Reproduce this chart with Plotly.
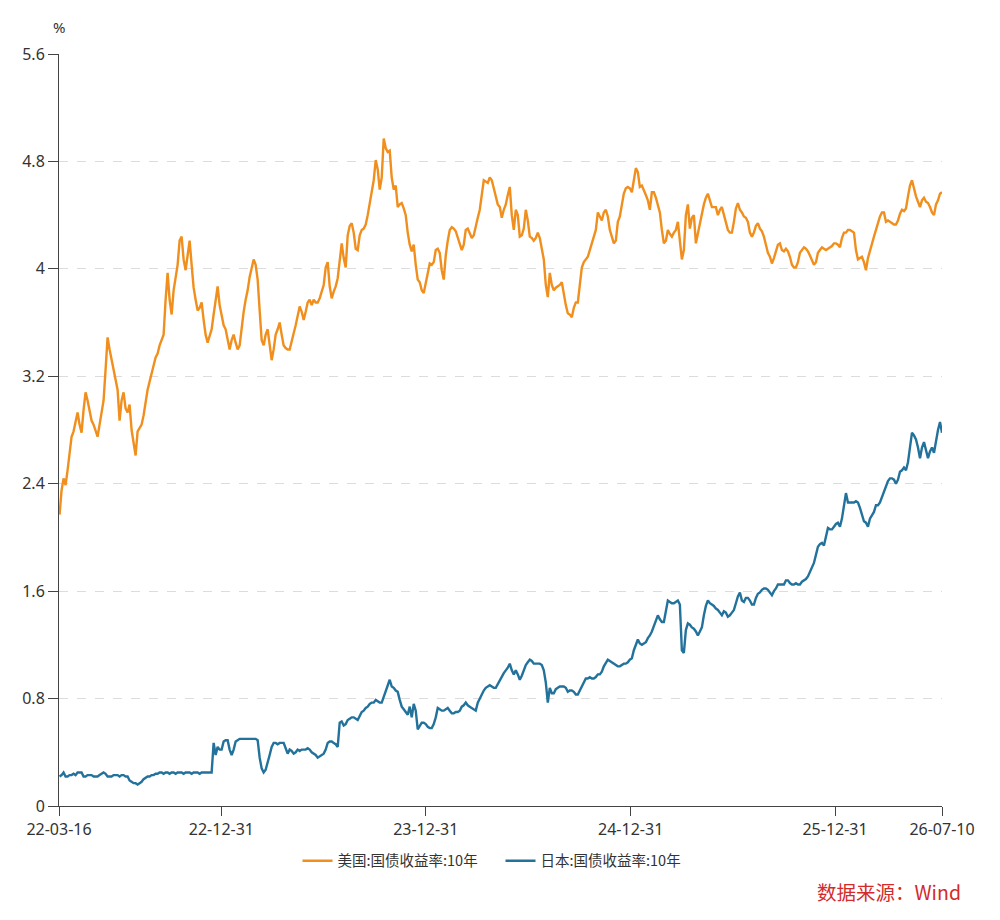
import pandas as pd
import plotly.graph_objects as go

START_DATE = "2022-03-17"
END_DATE = "2026-07-10"

us_10y = [
    2.17, 2.35, 2.44, 2.39, 2.50, 2.65, 2.75, 2.79, 2.87, 2.93,
    2.84, 2.78, 2.95, 3.08, 3.02, 2.93, 2.87, 2.84, 2.79, 2.75,
    2.84, 2.95, 3.02, 3.25, 3.49, 3.40, 3.32, 3.25, 3.17, 3.10,
    2.87, 3.02, 3.08, 2.96, 2.93, 2.99, 2.80, 2.69, 2.61, 2.79,
    2.82, 2.84, 2.91, 3.02, 3.10, 3.16, 3.23, 3.28, 3.34, 3.37,
    3.43, 3.47, 3.51, 3.77, 3.97, 3.77, 3.66, 3.84, 3.93, 4.03,
    4.21, 4.24, 4.07, 3.99, 4.10, 4.21, 4.03, 3.86, 3.77, 3.69,
    3.71, 3.75, 3.62, 3.51, 3.45, 3.51, 3.55, 3.66, 3.77, 3.87,
    3.73, 3.66, 3.58, 3.55, 3.47, 3.40, 3.47, 3.51, 3.45, 3.40,
    3.43, 3.58, 3.68, 3.77, 3.84, 3.94, 4.01, 4.07, 4.03, 3.92,
    3.69, 3.47, 3.43, 3.51, 3.55, 3.43, 3.32, 3.40, 3.51, 3.55,
    3.60, 3.51, 3.43, 3.41, 3.40, 3.40, 3.47, 3.52, 3.58, 3.66,
    3.72, 3.68, 3.62, 3.68, 3.75, 3.77, 3.73, 3.77, 3.75, 3.75,
    3.78, 3.83, 3.88, 4.01, 4.05, 3.87, 3.78, 3.83, 3.87, 3.93,
    4.05, 4.19, 4.08, 4.01, 4.25, 4.32, 4.34, 4.27, 4.15, 4.14,
    4.25, 4.29, 4.30, 4.33, 4.40, 4.49, 4.57, 4.66, 4.81, 4.74,
    4.59, 4.68, 4.97, 4.90, 4.87, 4.88, 4.68, 4.59, 4.62, 4.46,
    4.48, 4.49, 4.45, 4.40, 4.27, 4.18, 4.13, 4.18, 4.03, 3.92,
    3.90, 3.84, 3.82, 3.90, 3.98, 4.04, 4.03, 4.05, 4.14, 4.15,
    4.12, 3.99, 3.92, 4.10, 4.21, 4.29, 4.31, 4.30, 4.28, 4.23,
    4.19, 4.14, 4.18, 4.29, 4.30, 4.27, 4.23, 4.25, 4.33, 4.38,
    4.44, 4.57, 4.66, 4.65, 4.64, 4.68, 4.66, 4.60, 4.53, 4.48,
    4.46, 4.38, 4.44, 4.48, 4.55, 4.61, 4.40, 4.29, 4.44, 4.40,
    4.24, 4.25, 4.30, 4.44, 4.36, 4.24, 4.23, 4.21, 4.23, 4.27,
    4.23, 4.16, 4.07, 3.88, 3.79, 3.97, 3.88, 3.84, 3.86, 3.87,
    3.88, 3.90, 3.81, 3.73, 3.67, 3.66, 3.64, 3.71, 3.75, 3.75,
    3.88, 4.01, 4.05, 4.07, 4.09, 4.14, 4.19, 4.25, 4.29, 4.42,
    4.39, 4.36, 4.42, 4.44, 4.39, 4.29, 4.24, 4.19, 4.21, 4.35,
    4.39, 4.48, 4.56, 4.60, 4.61, 4.60, 4.57, 4.66, 4.75, 4.72,
    4.61, 4.62, 4.59, 4.55, 4.51, 4.44, 4.57, 4.57, 4.53, 4.48,
    4.42, 4.29, 4.19, 4.21, 4.29, 4.26, 4.24, 4.27, 4.29, 4.35,
    4.21, 4.07, 4.14, 4.40, 4.48, 4.30, 4.38, 4.40, 4.19, 4.27,
    4.34, 4.40, 4.48, 4.53, 4.56, 4.51, 4.46, 4.46, 4.46, 4.40,
    4.44, 4.46, 4.40, 4.35, 4.29, 4.27, 4.27, 4.35, 4.45, 4.49,
    4.44, 4.42, 4.39, 4.38, 4.35, 4.27, 4.24, 4.27, 4.32, 4.34,
    4.30, 4.28, 4.24, 4.18, 4.12, 4.09, 4.04, 4.08, 4.14, 4.18,
    4.19, 4.14, 4.13, 4.15, 4.13, 4.09, 4.03, 4.01, 4.01, 4.05,
    4.12, 4.14, 4.16, 4.15, 4.13, 4.10, 4.07, 4.03, 4.05, 4.12,
    4.14, 4.16, 4.15, 4.14, 4.15, 4.16, 4.17, 4.19, 4.19, 4.18,
    4.16, 4.23, 4.27, 4.27, 4.29, 4.29, 4.28, 4.27, 4.14, 4.07,
    4.08, 4.09, 4.05, 3.99, 4.08, 4.14, 4.19, 4.24, 4.29, 4.35,
    4.39, 4.42, 4.42, 4.35, 4.36, 4.35, 4.34, 4.33, 4.33, 4.36,
    4.41, 4.44, 4.43, 4.45, 4.54, 4.62, 4.66, 4.59, 4.54, 4.50,
    4.46, 4.51, 4.53, 4.50, 4.49, 4.46, 4.42, 4.40, 4.48, 4.51,
    4.56, 4.57,
]

jp_10y = [
    0.22, 0.23, 0.25, 0.22, 0.22, 0.23, 0.23, 0.24, 0.23, 0.25,
    0.25, 0.25, 0.22, 0.22, 0.23, 0.23, 0.23, 0.22, 0.22, 0.22,
    0.23, 0.24, 0.25, 0.24, 0.22, 0.22, 0.22, 0.23, 0.23, 0.23,
    0.22, 0.23, 0.23, 0.22, 0.22, 0.19, 0.18, 0.17, 0.17, 0.16,
    0.17, 0.18, 0.20, 0.21, 0.22, 0.22, 0.23, 0.23, 0.24, 0.24,
    0.25, 0.25, 0.24, 0.25, 0.25, 0.24, 0.25, 0.25, 0.24, 0.25,
    0.25, 0.25, 0.24, 0.25, 0.25, 0.25, 0.24, 0.25, 0.25, 0.25,
    0.24, 0.25, 0.25, 0.25, 0.25, 0.25, 0.25, 0.47, 0.38, 0.44,
    0.42, 0.42, 0.48, 0.49, 0.49, 0.42, 0.38, 0.42, 0.48, 0.49,
    0.50, 0.50, 0.50, 0.50, 0.50, 0.50, 0.50, 0.50, 0.50, 0.49,
    0.36, 0.28, 0.25, 0.27, 0.32, 0.38, 0.44, 0.47, 0.47, 0.46,
    0.47, 0.47, 0.47, 0.43, 0.39, 0.42, 0.41, 0.39, 0.40, 0.42,
    0.41, 0.42, 0.42, 0.42, 0.43, 0.42, 0.40, 0.39, 0.38, 0.36,
    0.37, 0.38, 0.39, 0.42, 0.47, 0.48, 0.48, 0.47, 0.46, 0.44,
    0.62, 0.63, 0.60, 0.61, 0.64, 0.65, 0.66, 0.66, 0.65, 0.64,
    0.67, 0.70, 0.71, 0.73, 0.74, 0.76, 0.77, 0.77, 0.79, 0.78,
    0.77, 0.77, 0.81, 0.86, 0.90, 0.94, 0.89, 0.88, 0.86, 0.85,
    0.79, 0.74, 0.72, 0.70, 0.68, 0.74, 0.66, 0.76, 0.71, 0.57,
    0.60, 0.62, 0.62, 0.61, 0.59, 0.58, 0.58, 0.61, 0.66, 0.73,
    0.72, 0.71, 0.71, 0.72, 0.73, 0.71, 0.69, 0.69, 0.70, 0.70,
    0.71, 0.74, 0.75, 0.77, 0.75, 0.74, 0.73, 0.72, 0.71, 0.77,
    0.80, 0.84, 0.86, 0.88, 0.89, 0.90, 0.89, 0.88, 0.88, 0.91,
    0.94, 0.96, 0.99, 1.01, 1.03, 1.06, 1.01, 0.98, 1.01, 0.98,
    0.94, 0.97, 1.01, 1.05, 1.07, 1.09, 1.08, 1.06, 1.06, 1.06,
    1.06, 1.05, 1.01, 0.92, 0.77, 0.88, 0.84, 0.84, 0.87, 0.88,
    0.89, 0.89, 0.89, 0.88, 0.85, 0.86, 0.86, 0.85, 0.83, 0.83,
    0.86, 0.89, 0.92, 0.95, 0.95, 0.96, 0.95, 0.95, 0.96, 0.98,
    0.98, 1.00, 1.04, 1.07, 1.09, 1.08, 1.07, 1.06, 1.05, 1.04,
    1.04, 1.05, 1.06, 1.06, 1.07, 1.09, 1.10, 1.16, 1.20, 1.24,
    1.21, 1.20, 1.21, 1.22, 1.25, 1.27, 1.30, 1.34, 1.39, 1.42,
    1.39, 1.37, 1.37, 1.44, 1.53, 1.52, 1.51, 1.51, 1.52, 1.53,
    1.50, 1.16, 1.14, 1.31, 1.36, 1.35, 1.33, 1.32, 1.30, 1.27,
    1.30, 1.33, 1.42, 1.49, 1.53, 1.51, 1.50, 1.49, 1.47, 1.46,
    1.44, 1.42, 1.45, 1.44, 1.41, 1.42, 1.44, 1.46, 1.51, 1.56,
    1.59, 1.53, 1.52, 1.55, 1.55, 1.53, 1.50, 1.50, 1.55, 1.58,
    1.59, 1.61, 1.62, 1.62, 1.61, 1.59, 1.57, 1.60, 1.62, 1.65,
    1.65, 1.65, 1.65, 1.68, 1.68, 1.66, 1.65, 1.65, 1.66, 1.65,
    1.65, 1.67, 1.68, 1.69, 1.71, 1.74, 1.78, 1.81, 1.87, 1.93,
    1.95, 1.96, 1.94, 2.00, 2.07, 2.06, 2.06, 2.08, 2.10, 2.11,
    2.08, 2.14, 2.22, 2.33, 2.26, 2.26, 2.26, 2.26, 2.27, 2.26,
    2.22, 2.16, 2.12, 2.11, 2.08, 2.14, 2.17, 2.19, 2.24, 2.24,
    2.26, 2.30, 2.33, 2.38, 2.42, 2.44, 2.44, 2.43, 2.40, 2.43,
    2.49, 2.50, 2.52, 2.50, 2.56, 2.67, 2.78, 2.76, 2.73, 2.67,
    2.59, 2.67, 2.71, 2.65, 2.59, 2.64, 2.67, 2.63, 2.73, 2.80,
    2.86, 2.78,
]

series_names = ["美国:国债收益率:10年", "日本:国债收益率:10年"]
series_colors = ["#F08F1D", "#23729B"]

x_tick_dates = ["2022-03-16", "2022-12-31", "2023-12-31", "2024-12-31", "2025-12-31", "2026-07-10"]
x_tick_labels = ["22-03-16", "22-12-31", "23-12-31", "24-12-31", "25-12-31", "26-07-10"]
y_tick_vals = [0, 0.8, 1.6, 2.4, 3.2, 4.0, 4.8, 5.6]
y_tick_labels = ["0", "0.8", "1.6", "2.4", "3.2", "4", "4.8", "5.6"]

FONT = "Noto Sans, Noto Sans CJK SC, sans-serif"

fig = go.Figure()
for name, vals, color in zip(series_names, [us_10y, jp_10y], series_colors):
    dates = pd.date_range(START_DATE, END_DATE, periods=len(vals))
    fig.add_trace(go.Scatter(
        x=dates, y=vals, mode="lines", name=name,
        line=dict(color=color, width=2.4),
    ))

fig.update_layout(
    width=1000, height=920,
    margin=dict(l=59, r=58, t=54, b=114),
    paper_bgcolor="white", plot_bgcolor="white",
    font=dict(family=FONT, size=14, color="#333333"),
    showlegend=True,
    legend=dict(
        orientation="h", x=0.5, xanchor="center", y=-0.073, yanchor="middle",
        font=dict(family="Noto Sans CJK SC, sans-serif", size=14.5, color="#333333"),
        itemwidth=30, entrywidth=158, entrywidthmode="pixels",
        bgcolor="rgba(0,0,0,0)",
    ),
    xaxis=dict(
        type="date", range=["2022-03-16", "2026-07-10"],
        tickvals=x_tick_dates, ticktext=x_tick_labels,
        showgrid=False, zeroline=False,
        showline=True, linecolor="#444444", linewidth=1,
        ticks="outside", ticklen=9, tickcolor="#444444",
        tickfont=dict(size=16, color="#333333"),
    ),
    yaxis=dict(
        range=[0, 5.6], tickvals=y_tick_vals, ticktext=y_tick_labels,
        showgrid=True, gridcolor="#dcdcdc", griddash="dash", gridwidth=1,
        zeroline=False,
        showline=True, linecolor="#444444", linewidth=1,
        ticks="outside", ticklen=10, tickcolor="#444444",
        tickfont=dict(size=16, color="#333333"),
    ),
    annotations=[
        dict(text="%", xref="paper", yref="paper", x=0, y=1.036,
             xanchor="center", yanchor="middle", showarrow=False,
             font=dict(size=15, color="#333333")),
        dict(text="数据来源：Wind", xref="paper", yref="paper", x=0.94, y=-0.114,
             xanchor="center", yanchor="middle", showarrow=False,
             font=dict(family="Noto Sans CJK SC, sans-serif", size=19.5, color="#D42A2A")),
    ],
)

fig.write_html("out.html")
